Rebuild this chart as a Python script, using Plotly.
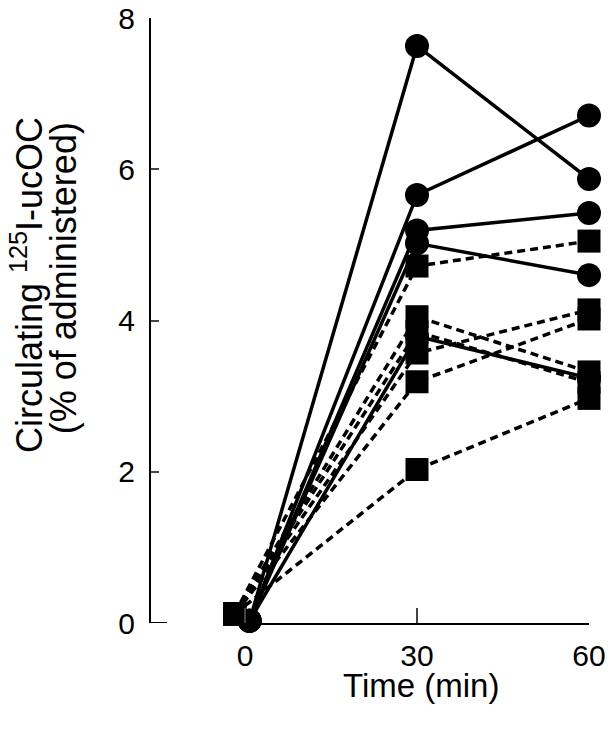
import plotly.graph_objects as go

# time points (min); the 0-min points are drawn slightly apart in the source figure
circle_time = [0.8, 30, 60]
square_time = [-1.8, 30, 60]

# circulating 125I-ucOC (% of administered), one value per animal
circle_0 = [0.03, 0.03, 0.03, 0.03, 0.03]
circle_30 = [7.63, 5.66, 5.19, 5.02, 3.79]
circle_60 = [5.87, 6.71, 5.42, 4.60, 3.24]

square_0 = [0.12, 0.12, 0.12, 0.12, 0.12, 0.12]
square_30 = [4.72, 4.05, 3.85, 3.57, 3.19, 2.03]
square_60 = [5.05, 3.32, 3.18, 4.14, 4.02, 2.97]

FONT = "Liberation Sans, Arial, sans-serif"

# page has an 8px body margin, so margins are offset by that amount
L, R, T, B = 142, 32, 10, 125
PW = 613 - L - R

fig = go.Figure()

for a, b, c in zip(square_0, square_30, square_60):
    fig.add_trace(go.Scatter(
        x=square_time, y=[a, b, c],
        mode="lines+markers",
        line=dict(color="black", width=3.5, dash="8px,5px"),
        marker=dict(symbol="square", size=23, color="black"),
        cliponaxis=False, showlegend=False,
    ))

for a, b, c in zip(circle_0, circle_30, circle_60):
    fig.add_trace(go.Scatter(
        x=circle_time, y=[a, b, c],
        mode="lines+markers",
        line=dict(color="black", width=3.5),
        marker=dict(symbol="circle", size=24, color="black"),
        cliponaxis=False, showlegend=False,
    ))

fig.update_layout(
    width=613, height=740,
    margin=dict(l=L, r=R, t=T, b=B, autoexpand=False),
    plot_bgcolor="white", paper_bgcolor="white",
    font=dict(family=FONT, color="black"),
    xaxis=dict(
        domain=[(227.8 - 150) / PW, 1], range=[-3, 60],
        tickvals=[0, 30, 60], ticks="inside", ticklen=15, tickwidth=2,
        showline=True, linewidth=2, linecolor="black",
        showgrid=False, zeroline=False, automargin=False,
        tickfont=dict(size=30), ticklabelstandoff=5,
        ticklabeloverflow="allow",
    ),
    yaxis=dict(
        anchor="free", position=0, range=[0, 8],
        tickvals=[0, 2, 4, 6, 8], ticks="inside", ticklen=8, tickwidth=2,
        showline=True, linewidth=2, linecolor="black",
        showgrid=False, zeroline=False, automargin=False,
        tickfont=dict(size=30), ticklabelstandoff=8,
        ticklabeloverflow="allow",
    ),
    annotations=[
        dict(text="Time (min)", xref="paper", yref="paper",
             x=0.617, y=-0.1025, xanchor="center", yanchor="middle",
             showarrow=False, font=dict(size=33)),
        dict(text="Circulating <sup>125</sup>I-ucOC",
             xref="paper", yref="paper", x=-0.280, y=0.5587,
             xanchor="center", yanchor="middle", textangle=-90,
             showarrow=False, font=dict(size=36)),
        dict(text="(% of administered)",
             xref="paper", yref="paper", x=-0.198, y=0.570,
             xanchor="center", yanchor="middle", textangle=-90,
             showarrow=False, font=dict(size=36)),
    ],
    shapes=[
        dict(type="line", xref="paper", yref="y", x0=0, x1=17 / PW, y0=0, y1=0,
             line=dict(color="black", width=2)),
    ],
)

fig.write_html("out.html")
